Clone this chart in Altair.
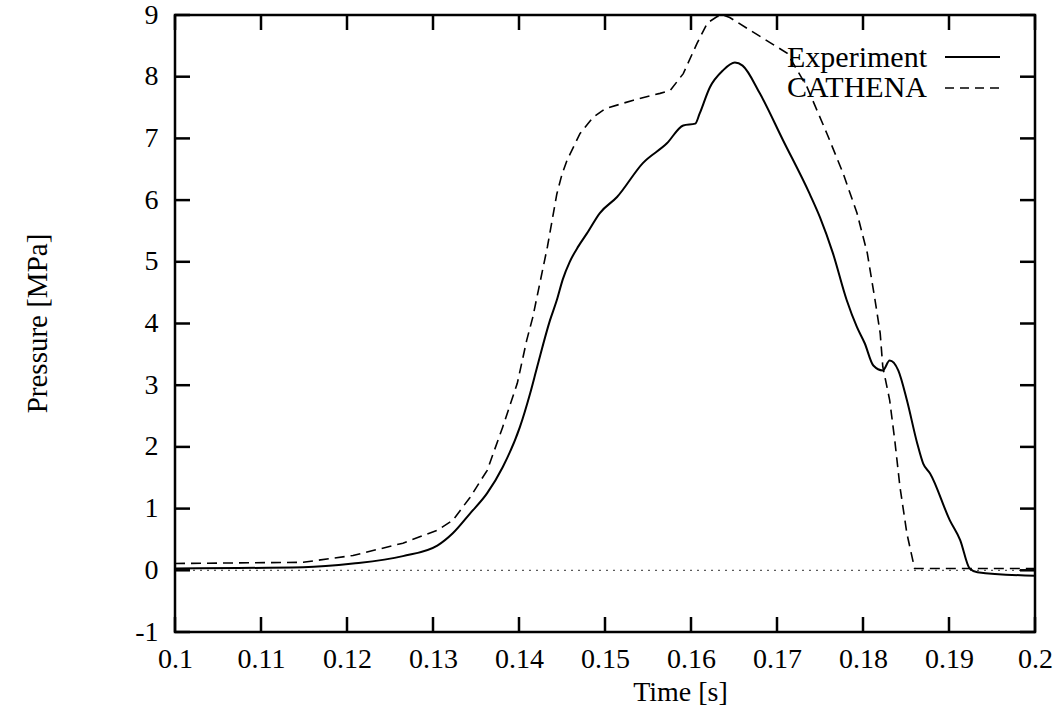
import altair as alt
import pandas as pd

# ---- data ----
exp_t = [0.1, 0.1149, 0.1207, 0.1265, 0.1305, 0.1323, 0.1343, 0.1363, 0.1381, 0.1401,
         0.1413, 0.1421, 0.1436, 0.1444, 0.1451, 0.1459, 0.1469, 0.1479, 0.1494, 0.1514,
         0.1544, 0.1572, 0.1591, 0.1605, 0.1610, 0.1622, 0.1637, 0.1651, 0.1660, 0.1680,
         0.1707, 0.1738, 0.1750, 0.1765, 0.1781, 0.1793, 0.1802, 0.1812, 0.1823, 0.1831,
         0.1841, 0.1851, 0.1863, 0.1870, 0.1878, 0.1901, 0.1913, 0.1924, 0.1933, 0.2]
exp_p = [0.03, 0.05, 0.11, 0.23, 0.40, 0.60, 0.92, 1.25, 1.67, 2.32,
         2.87, 3.29, 4.05, 4.38, 4.72, 5.0, 5.25, 5.46, 5.79, 6.05,
         6.6, 6.92, 7.21, 7.24, 7.4, 7.83, 8.1, 8.23, 8.18, 7.73,
         6.97, 6.1, 5.72, 5.14, 4.38, 3.94, 3.68, 3.32, 3.24, 3.40,
         3.24, 2.76, 2.06, 1.73, 1.57, 0.81, 0.49, 0.03, -0.03, -0.09]

cat_t = [0.1, 0.1149, 0.1207, 0.1265, 0.1305, 0.1323, 0.1343, 0.1363, 0.1381, 0.1398,
         0.1409, 0.1416, 0.1433, 0.1444, 0.1450, 0.1456, 0.1471, 0.1486, 0.15, 0.1533,
         0.1564, 0.1576, 0.1591, 0.1607, 0.1619, 0.1630, 0.1637, 0.1645, 0.1669, 0.1712,
         0.1735, 0.1758, 0.1777, 0.1793, 0.1805, 0.1814, 0.1820, 0.1823, 0.1831, 0.1837,
         0.1843, 0.1851, 0.1860, 0.2]
cat_p = [0.11, 0.13, 0.24, 0.44, 0.65, 0.81, 1.18, 1.62, 2.32, 3.03,
         3.73, 4.1, 5.24, 6.1, 6.42, 6.65, 7.08, 7.34, 7.48, 7.62,
         7.73, 7.78, 8.05, 8.54, 8.87, 8.97, 9.0, 8.96, 8.75, 8.38,
         7.83, 7.08, 6.43, 5.79, 5.14, 4.38, 3.84, 3.3, 2.76, 2.1,
         1.35, 0.6, 0.03, 0.03]

series_names = ["Experiment", "CATHENA"]
x_ticks = [0.1, 0.11, 0.12, 0.13, 0.14, 0.15, 0.16, 0.17, 0.18, 0.19, 0.2]
y_ticks = [-1, 0, 1, 2, 3, 4, 5, 6, 7, 8, 9]

FONT = "Liberation Serif"
W, H = 860, 617

exp_df = pd.DataFrame({"time": exp_t, "pressure": exp_p})
cat_df = pd.DataFrame({"time": cat_t, "pressure": cat_p})
xt_df = pd.DataFrame({"time": x_ticks})
yt_df = pd.DataFrame({"pressure": y_ticks})
zero_df = pd.DataFrame({"pressure": [0]})

X = alt.X("time:Q",
          scale=alt.Scale(domain=[0.1, 0.2], nice=False, zero=False),
          axis=alt.Axis(values=x_ticks, format=".2~f", labelFont=FONT, labelFontSize=28,
                        labelColor="black", labelPadding=13, labelFlush=False,
                        labelOverlap=False, labelBound=False,
                        title="Time [s]", titleFont=FONT, titleFontSize=28,
                        titleFontWeight="normal", titleColor="black",
                        titleX=505, titleY=60, titleAlign="center", titleBaseline="middle",
                        domain=False, ticks=False, grid=False))
Y = alt.Y("pressure:Q",
          scale=alt.Scale(domain=[-1, 9], nice=False, zero=False),
          axis=alt.Axis(values=y_ticks,
                        labelExpr="datum.value < 0 ? '-' + abs(datum.value) : '' + datum.value",
                        labelFont=FONT, labelFontSize=28,
                        labelColor="black", labelPadding=17, labelFlush=False,
                        labelOverlap=False, labelBound=False,
                        title="Pressure [MPa]", titleFont=FONT, titleFontSize=29,
                        titleFontWeight="normal", titleColor="black",
                        titleX=-138, titleY=308, titleAngle=-90, titleAlign="center",
                        titleBaseline="middle",
                        domain=False, ticks=False, grid=False))

zero_line = alt.Chart(zero_df).mark_rule(color="#333333", strokeWidth=1,
                                         strokeDash=[2, 5]).encode(y=Y)

exp_line = alt.Chart(exp_df).mark_line(color="black", strokeWidth=2,
                                       interpolate="monotone").encode(x=X, y=Y)
cat_line = alt.Chart(cat_df).mark_line(color="black", strokeWidth=1.6,
                                       strokeDash=[10, 6]).encode(x=X, y=Y)

tick_style = dict(color="black", strokeWidth=2.5)
xb = alt.Chart(xt_df).mark_rule(**tick_style).encode(x=X, y=alt.value(H), y2=alt.value(H - 15))
xtop = alt.Chart(xt_df).mark_rule(**tick_style).encode(x=X, y=alt.value(0), y2=alt.value(15))
yl = alt.Chart(yt_df).mark_rule(**tick_style).encode(y=Y, x=alt.value(0), x2=alt.value(15))
yr = alt.Chart(yt_df).mark_rule(**tick_style).encode(y=Y, x=alt.value(W), x2=alt.value(W - 15))

# legend (text right-aligned, sample line on its right)
leg_text_exp = alt.Chart(pd.DataFrame({"s": [series_names[0]]})).mark_text(
    font=FONT, fontSize=30, align="right", baseline="middle", color="black"
).encode(text="s:N", x=alt.value(752), y=alt.value(43))
leg_text_cat = alt.Chart(pd.DataFrame({"s": [series_names[1]]})).mark_text(
    font=FONT, fontSize=30, align="right", baseline="middle", color="black"
).encode(text="s:N", x=alt.value(752), y=alt.value(73))
leg_line_exp = alt.Chart(pd.DataFrame({"s": [series_names[0]]})).mark_rule(
    color="black", strokeWidth=2
).encode(x=alt.value(770), x2=alt.value(825), y=alt.value(42))
leg_line_cat = alt.Chart(pd.DataFrame({"s": [series_names[1]]})).mark_rule(
    color="black", strokeWidth=1.6, strokeDash=[9, 6]
).encode(x=alt.value(770), x2=alt.value(825), y=alt.value(73))

chart = alt.layer(
    zero_line, exp_line, cat_line, xb, xtop, yl, yr,
    leg_text_exp, leg_text_cat, leg_line_exp, leg_line_cat
).properties(
    width=W, height=H,
    padding={"left": 175, "top": 15, "right": 25, "bottom": 80},
    autosize=alt.AutoSizeParams(type="none"),
    background="white",
).configure_view(stroke="black", strokeWidth=2.5)

chart.save("out.html", embed_options={"renderer": "svg", "actions": False})
